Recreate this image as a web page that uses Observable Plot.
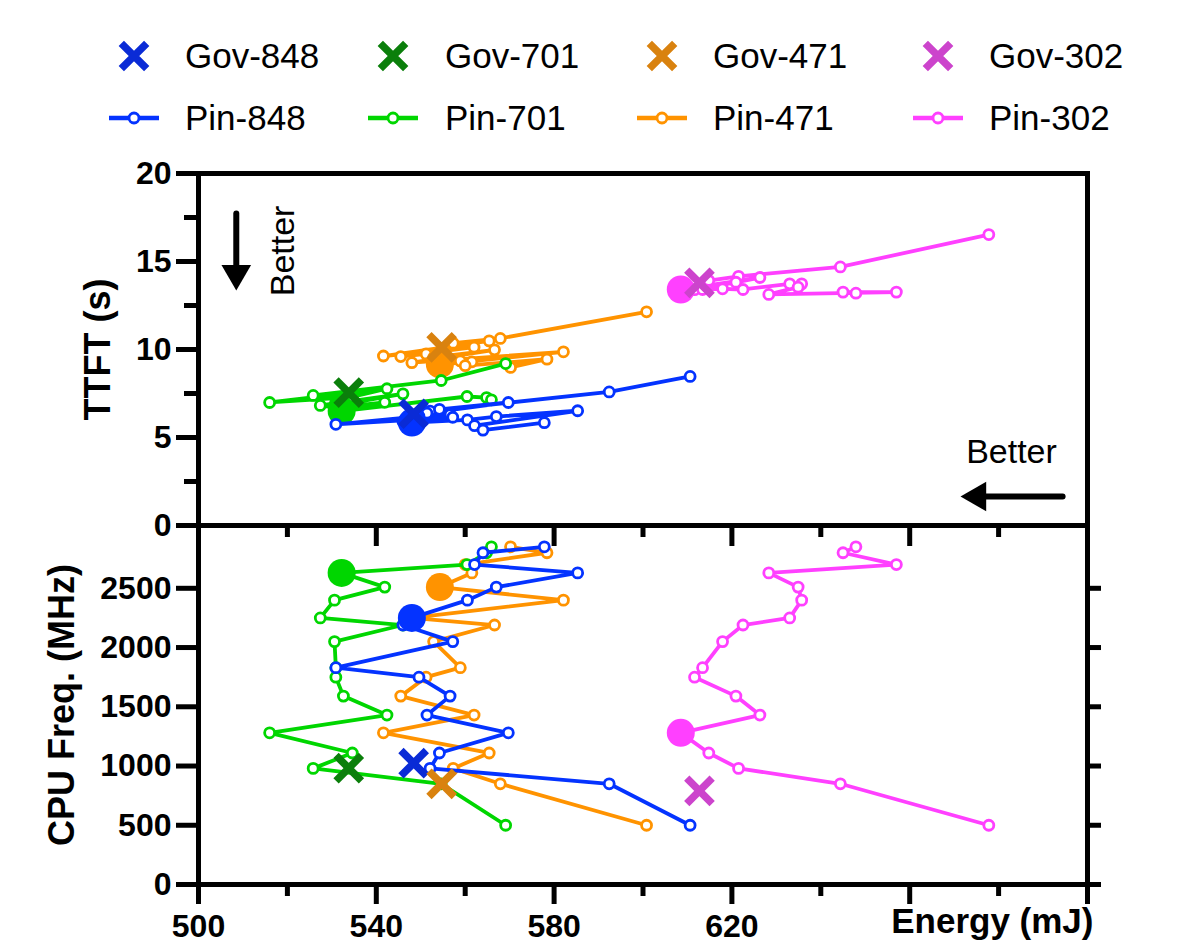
<!DOCTYPE html>
<html><head><meta charset="utf-8">
<script src="https://cdn.jsdelivr.net/npm/d3@7"></script>
<script src="https://cdn.jsdelivr.net/npm/@observablehq/plot@0.6"></script>
<style>
html,body{margin:0;padding:0;background:#fff;}
#wrap{position:relative;width:1196px;height:943px;overflow:hidden;background:#fff;color:#000;font-family:"Liberation Sans",Arial,Helvetica,sans-serif;}
#wrap > svg{position:absolute;left:0;top:0;}
</style></head><body><div id="wrap"></div>
<script>
// ---------- data ----------
const freqLevels = [500, 850, 980, 1110, 1280, 1430, 1590, 1750, 1830, 2050, 2190, 2250, 2400, 2510, 2630, 2700, 2800, 2850];

const pinNames = ["Pin-302", "Pin-471", "Pin-701", "Pin-848"];
const govNames = ["Gov-848", "Gov-701", "Gov-471", "Gov-302"];

const energy848 = [610.6, 592.4, 552.1, 554.2, 569.7, 551.4, 556.6, 549.6, 530.9, 557.2, 546.0, 548.0, 560.5, 567.0, 585.3, 562.1, 564.0, 577.8];
const ttft848   = [8.47, 7.59, 6.5, 6.6, 6.99, 6.38, 6.3, 6.2, 5.75, 6.15, 5.9, 5.85, 6.0, 6.19, 6.52, 5.67, 5.42, 5.84];

const energy701 = [569.1, 554.6, 525.8, 534.6, 516.0, 542.4, 532.6, 530.9, 530.9, 530.6, 546.0, 527.4, 530.6, 541.9, 532.2, 560.4, 564.8, 565.9];
const ttft701   = [9.2, 8.24, 7.39, 7.3, 6.99, 7.77, 7.2, 7.0, 6.9, 6.8, 7.48, 6.82, 6.7, 7.0, 6.5, 7.33, 7.27, 7.14];

const energy471 = [600.8, 567.9, 557.3, 565.4, 541.6, 562.0, 545.5, 551.2, 558.9, 552.9, 566.6, 548.0, 582.1, 554.3, 561.5, 560.0, 578.4, 570.2];
const ttft471   = [12.14, 10.63, 10.36, 10.49, 9.63, 10.13, 9.6, 9.75, 9.35, 9.55, 9.98, 9.25, 9.87, 9.15, 9.3, 9.08, 9.45, 8.98];

const energy302 = [677.8, 644.4, 621.5, 614.8, 608.5, 626.3, 620.9, 611.6, 613.4, 617.9, 622.5, 633.0, 635.7, 634.9, 628.3, 657.0, 645.0, 647.9];
const ttft302   = [16.53, 14.69, 14.16, 13.92, 13.41, 14.09, 13.82, 13.4, 13.41, 13.45, 13.41, 13.73, 13.73, 13.54, 13.13, 13.26, 13.26, 13.2];

// highlighted (selected) frequency of each Pin series
const bestFreq = {"Pin-848": 2250, "Pin-701": 2630, "Pin-471": 2510, "Pin-302": 1280};

// governor results
const govEnergy = [548.4, 533.8, 554.7, 612.7];
const govTtft   = [6.35, 7.55, 10.12, 13.79];
const govFreq   = [1024, 982, 850, 790];

// tick values
const ttftMajor = [0, 5, 10, 15, 20];
const ttftMinor = [2.5, 7.5, 12.5, 17.5];
const freqTicks = [0, 500, 1000, 1500, 2000, 2500];
const energyMajor = [500, 540, 580, 620, 660, 700];
const energyMinor = [520, 560, 600, 640, 680];
const energyLabelled = [500, 540, 580, 620];

// colours
const pinColor = {"Pin-848": "#0433ff", "Pin-701": "#00d600", "Pin-471": "#ff9300", "Pin-302": "#ff40ff"};
const govColor = {"Gov-848": "#0a2bd6", "Gov-701": "#0b7f0b", "Gov-471": "#d9820f", "Gov-302": "#cc44cc"};

// ---------- tables ----------
const pinSrc = {
  "Pin-848": [energy848, ttft848],
  "Pin-701": [energy701, ttft701],
  "Pin-471": [energy471, ttft471],
  "Pin-302": [energy302, ttft302]
};
const rows = pinNames.flatMap(s => freqLevels.map((f, i) => ({series: s, freq: f, energy: pinSrc[s][0][i], ttft: pinSrc[s][1][i]})));
const govRows = govNames.map((g, i) => ({series: g, energy: govEnergy[i], ttft: govTtft[i], freq: govFreq[i]}));

const FONT = '"Liberation Sans", Arial, Helvetica, sans-serif';
const W = 1196, H = 943;
const common = {
  width: W, height: H, marginLeft: 198, marginRight: 109,
  style: {background: "transparent", overflow: "visible", fontFamily: FONT, color: "#000"}
};

function seriesMarks(yField) {
  return pinNames.flatMap(s => {
    const d = rows.filter(r => r.series === s);
    const c = pinColor[s];
    return [
      Plot.line(d, {x: "energy", y: yField, stroke: c, strokeWidth: 3.8}),
      Plot.dot(d.filter(r => r.freq !== bestFreq[s]), {x: "energy", y: yField, r: 5, fill: "white", stroke: c, strokeWidth: 2.8}),
      Plot.dot(d.filter(r => r.freq === bestFreq[s]), {x: "energy", y: yField, r: 14, fill: c, stroke: "none"})
    ];
  });
}
function govMarks(yField) {
  return govNames.map(g => Plot.dot(govRows.filter(r => r.series === g), {x: "energy", y: yField, symbol: "times", r: 11.6, stroke: govColor[g], strokeWidth: 7.5}));
}

// annotations (data coordinates of the top panel)
const arrowDown = {x: 508.5, y1: 17.73, y2: 14.5, head: 14.32};
const arrowLeft = {y: 1.65, x1: 694.4, x2: 676.0, head: 675.28};

const empty = () => "";
const TICKFONT = 32;
const TITLEFONT = 36;

// ---------- top panel ----------
const topPlot = Plot.plot({
  ...common,
  marginTop: 173, marginBottom: 418,
  x: {domain: [500, 700]},
  y: {domain: [0, 20]},
  marks: [
    ...seriesMarks("ttft"),
    ...govMarks("ttft"),
    Plot.link([arrowDown], {x1: "x", x2: "x", y1: "y1", y2: "y2", stroke: "black", strokeWidth: 6, strokeLinecap: "round"}),
    Plot.dot([arrowDown], {x: "x", y: "head", symbol: "triangle", r: 11, fill: "black", stroke: "none", rotate: 180}),
    Plot.text(["Better"], {x: 519.1, y: 15.6, rotate: -90, fontSize: 34, fill: "black", textAnchor: "middle", lineAnchor: "middle"}),
    Plot.link([arrowLeft], {x1: "x1", x2: "x2", y1: "y", y2: "y", stroke: "black", strokeWidth: 6, strokeLinecap: "round"}),
    Plot.dot([arrowLeft], {x: "head", y: "y", symbol: "triangle", r: 11, fill: "black", stroke: "none", rotate: -90}),
    Plot.text(["Better"], {x: 682.9, y: 4.15, fontSize: 34, fill: "black", textAnchor: "middle", lineAnchor: "middle"}),
    Plot.axisY(ttftMinor, {anchor: "left", tickSize: 14, strokeWidth: 5, tickFormat: empty, label: null}),
    Plot.axisY(ttftMajor, {anchor: "left", tickSize: 22, tickPadding: 5, strokeWidth: 5, fontSize: TICKFONT, fontWeight: "bold", label: null}),
    Plot.axisX(energyMajor, {anchor: "bottom", tickSize: 21, strokeWidth: 5, tickFormat: empty, label: null}),
    Plot.axisX(energyMinor, {anchor: "bottom", tickSize: 12, strokeWidth: 5, tickFormat: empty, label: null}),
    Plot.text(["TTFT (s)"], {frameAnchor: "left", dx: -100, rotate: -90, textAnchor: "middle", lineAnchor: "middle", fontSize: TITLEFONT, fontWeight: "bold", fill: "black"}),
    Plot.frame({stroke: "black", strokeWidth: 5})
  ]
});

// ---------- bottom panel ----------
const bottomPlot = Plot.plot({
  ...common,
  marginTop: 525, marginBottom: 59,
  x: {domain: [500, 700]},
  y: {domain: [0, 3030]},
  marks: [
    ...seriesMarks("freq"),
    ...govMarks("freq"),
    Plot.axisY(freqTicks, {anchor: "left", tickSize: 22, tickPadding: 5, strokeWidth: 5, fontSize: TICKFONT, fontWeight: "bold", label: null, tickFormat: d => String(d)}),
    Plot.axisY(freqTicks, {anchor: "right", tickSize: 13, strokeWidth: 5, tickFormat: empty, label: null}),
    Plot.axisX(energyMajor, {anchor: "bottom", tickSize: 20, tickPadding: 10, strokeWidth: 5, fontSize: TICKFONT, fontWeight: "bold", label: null,
      tickFormat: d => energyLabelled.includes(d) ? String(d) : ""}),
    Plot.axisX(energyMinor, {anchor: "bottom", tickSize: 12, strokeWidth: 5, tickFormat: empty, label: null}),
    Plot.text(["Energy (mJ)"], {frameAnchor: "bottom-right", dx: 6, dy: 24, textAnchor: "end", lineAnchor: "top", fontSize: 35, fontWeight: "bold", fill: "black"}),
    Plot.text(["CPU Freq. (MHz)"], {frameAnchor: "left", dx: -136, rotate: -90, textAnchor: "middle", lineAnchor: "middle", fontSize: TITLEFONT, fontWeight: "bold", fill: "black"}),
    Plot.frame({stroke: "black", strokeWidth: 5})
  ]
});

const wrap = document.getElementById("wrap");
wrap.appendChild(bottomPlot);
wrap.appendChild(topPlot);

// ---------- legend ----------
const legend = d3.create("svg").attr("width", W).attr("height", 160).attr("style", "position:absolute;left:0;top:0;overflow:visible");
const colX = [134, 393, 662, 938];
const textX = [185, 445, 713, 989];
const govOrder = ["Gov-848", "Gov-701", "Gov-471", "Gov-302"];
const pinOrder = ["Pin-848", "Pin-701", "Pin-471", "Pin-302"];
const timesPath = d3.symbol(d3.symbolTimes, Math.PI * 11.6 * 11.6)();
govOrder.forEach((g, i) => {
  legend.append("path").attr("d", timesPath).attr("transform", `translate(${colX[i]},56)`)
    .attr("fill", "none").attr("stroke", govColor[g]).attr("stroke-width", 7.5);
  legend.append("text").attr("x", textX[i]).attr("y", 68).attr("font-size", 35).attr("font-family", FONT).attr("fill", "#000").text(g);
});
pinOrder.forEach((p, i) => {
  legend.append("line").attr("x1", colX[i] - 25).attr("x2", colX[i] + 25).attr("y1", 118).attr("y2", 118)
    .attr("stroke", pinColor[p]).attr("stroke-width", 4.5);
  legend.append("circle").attr("cx", colX[i]).attr("cy", 118).attr("r", 5).attr("fill", "white")
    .attr("stroke", pinColor[p]).attr("stroke-width", 2.8);
  legend.append("text").attr("x", textX[i]).attr("y", 130).attr("font-size", 35).attr("font-family", FONT).attr("fill", "#000").text(p);
});
wrap.appendChild(legend.node());
</script>
</body></html>
